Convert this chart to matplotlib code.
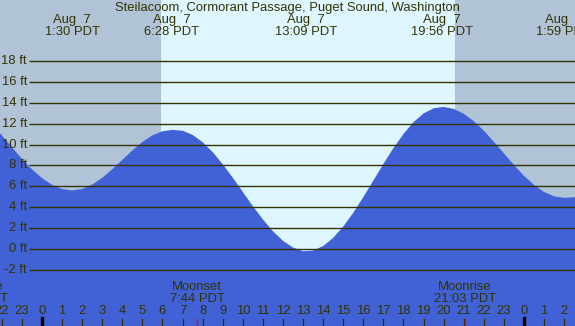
import matplotlib.pyplot as plt
import matplotlib.transforms as mtransforms

plt.rcParams['font.family'] = ['Liberation Sans', 'DejaVu Sans']

# tide height (ft) every half hour, hours from midnight Aug 7
hours = [-2.5, -2.0, -1.5, -1.0, -0.5, 0.0, 0.5, 1.0, 1.5, 2.0, 2.5, 3.0, 3.5, 4.0,
         4.5, 5.0, 5.5, 6.0, 6.5, 7.0, 7.5, 8.0, 8.5, 9.0, 9.5, 10.0, 10.5, 11.0,
         11.5, 12.0, 12.5, 13.0, 13.5, 14.0, 14.5, 15.0, 15.5, 16.0, 16.5, 17.0,
         17.5, 18.0, 18.5, 19.0, 19.5, 20.0, 20.5, 21.0, 21.5, 22.0, 22.5, 23.0,
         23.5, 24.0, 24.5, 25.0, 25.5, 26.0, 26.5, 27.0]
heights = [11.97, 10.87, 9.73, 8.63, 7.63, 6.78, 6.14, 5.74, 5.60, 5.74, 6.16, 6.81,
           7.63, 8.53, 9.43, 10.24, 10.88, 11.27, 11.40, 11.32, 10.92, 10.22, 9.27,
           8.11, 6.82, 5.46, 4.10, 2.83, 1.70, 0.78, 0.14, -0.22, -0.16, 0.28, 1.06,
           2.14, 3.46, 4.96, 6.54, 8.13, 9.65, 11.00, 12.13, 12.97, 13.46, 13.60,
           13.41, 12.95, 12.24, 11.33, 10.27, 9.16, 8.04, 7.01, 6.13, 5.46, 5.04,
           4.90, 4.95, 5.10]

# high / low tide events shown along the top
event_hours = [1.5, 6.467, 13.15, 19.933, 25.983]
event_dates = ['Aug  7', 'Aug  7', 'Aug  7', 'Aug  7', 'Aug  8']
event_times = ['1:30 PDT', '6:28 PDT', '13:09 PDT', '19:56 PDT', '1:59 PDT']

# moon events along the bottom
moon_hours = [-3.25, 7.733, 21.05]
moon_names = ['Moonrise', 'Moonset', 'Moonrise']
moon_times = ['20:45 PDT', '7:44 PDT', '21:03 PDT']

sunrise, sunset = 5.93, 20.57
levels = [-2, 0, 2, 4, 6, 8, 10, 12, 14, 16, 18]
tick_hours = list(range(-2, 27))

night = '#b0c3d7'
day = '#ddf6ff'
water = '#4161d6'
ink = '#333300'
fs = 9.4

W, H = 575, 326
fig = plt.figure(figsize=(W / 100, H / 100), dpi=100)
ax = fig.add_axes([0, 0, 1, 1])
ax.set_xlim(-2.092, 26.544)
ax.set_ylim(-7.37, 23.83)
ax.axis('off')

ax.axvspan(-10, sunrise, color=night, lw=0)
ax.axvspan(sunrise, sunset, color=day, lw=0)
ax.axvspan(sunset, 40, color=night, lw=0)

ax.fill_between(hours, heights, -20, color=water, lw=0)

ax.hlines(levels, -0.647, 30, colors=ink, lw=1.0)
for lv in levels:
    ax.text(-0.75, lv, f'{lv} ft', ha='right', va='center', fontsize=fs, color=ink)

# x in data, y in pixels from top
trans = mtransforms.blended_transform_factory(ax.transData, ax.transAxes)
def ypx(p):
    return 1 - p / H

ax.text(12.2, ypx(8), 'Steilacoom, Cormorant Passage, Puget Sound, Washington',
        ha='center', va='center', fontsize=fs, color=ink, transform=trans)
for h, d, t in zip(event_hours, event_dates, event_times):
    ax.text(h, ypx(20), d, ha='center', va='center', fontsize=fs, color=ink, transform=trans)
    ax.text(h, ypx(32), t, ha='center', va='center', fontsize=fs, color=ink, transform=trans)

for h, n, t in zip(moon_hours, moon_names, moon_times):
    ax.text(h, ypx(287), n, ha='center', va='center', fontsize=fs, color=ink, transform=trans)
    ax.text(h, ypx(299), t, ha='center', va='center', fontsize=fs, color=ink, transform=trans)

for h in tick_hours:
    ax.text(h, ypx(311), str(h % 24), ha='center', va='center', fontsize=fs,
            color=ink, transform=trans)
    if h % 24 == 0:
        ax.plot([h, h], [ypx(318), 0], color='black', lw=2.4, transform=trans)
    else:
        ax.plot([h, h], [ypx(319), 0], color=ink, lw=0.9, transform=trans)

for h in moon_hours:
    ax.plot([h, h], [ypx(319), 0], color='red', lw=0.9, transform=trans)

fig.savefig('out.png', dpi=100)
